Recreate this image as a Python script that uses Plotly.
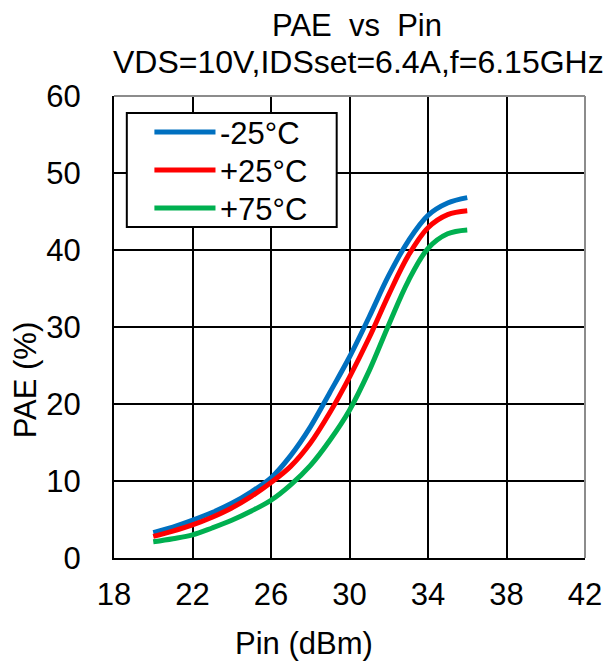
import plotly.graph_objects as go

# Input power sweep (dBm)
pin = [20, 21, 22, 23, 24, 25, 26, 27, 28, 29, 30, 31, 32, 33, 34, 35, 36]

# PAE (%) per case temperature
pae_m25 = [3.3, 4.0, 4.9, 5.9, 7.1, 8.6, 10.4, 13.3, 17.0, 21.5, 26.1, 31.3, 36.7, 41.2, 44.5, 46.1, 46.8]
pae_p25 = [2.8, 3.5, 4.3, 5.3, 6.5, 8.0, 9.8, 11.9, 14.9, 18.9, 23.5, 28.6, 34.2, 39.3, 42.9, 44.6, 45.1]
pae_p75 = [2.1, 2.5, 3.0, 3.9, 4.9, 6.1, 7.5, 9.5, 12.0, 15.3, 19.2, 24.3, 30.3, 36.0, 40.2, 42.1, 42.6]

series_names = ["-25°C", "+25°C", "+75°C"]
series_colors = ["#0070C0", "#FF0000", "#00B050"]

x_ticks = [18, 22, 26, 30, 34, 38, 42]
y_ticks = [0, 10, 20, 30, 40, 50, 60]

FONT = "Liberation Sans, Arial, sans-serif"
FS = 31

# Plot-area geometry in pixels
W, H = 614, 661
L, R, T, B = 114, 22, 96, 103
PW, PH = W - L - R, H - T - B


def px(xpix):
    return (xpix - L) / PW


def py(ypix):
    return (H - B - ypix) / PH


fig = go.Figure()
for name, vals, col in zip(series_names, [pae_m25, pae_p25, pae_p75], series_colors):
    fig.add_trace(go.Scatter(
        x=pin, y=vals, mode="lines", name=name, showlegend=False,
        line=dict(color=col, width=5, shape="spline", smoothing=1.0),
    ))

fig.update_layout(
    width=W, height=H,
    margin=dict(l=L, r=R, t=T, b=B),
    paper_bgcolor="white", plot_bgcolor="white",
    font=dict(family=FONT, size=FS, color="black"),
    showlegend=False,
)

fig.update_xaxes(
    range=[18, 42], tickvals=x_ticks, ticktext=[str(v) for v in x_ticks],
    showgrid=True, gridcolor="black", gridwidth=2,
    showline=True, linecolor="black", linewidth=2,
    zeroline=False, ticks="", ticklabelstandoff=8,
    tickfont=dict(family=FONT, size=FS, color="black"),
)
fig.update_yaxes(
    range=[0, 60], tickvals=y_ticks, ticktext=[str(v) for v in y_ticks],
    showgrid=True, gridcolor="black", gridwidth=2,
    showline=True, linecolor="black", linewidth=2,
    zeroline=False, ticks="", ticklabelstandoff=25,
    tickfont=dict(family=FONT, size=FS, color="black"),
)

# Gray frame on the top and right edges of the plot area
fig.add_shape(type="line", xref="paper", yref="paper", x0=0, x1=1, y0=1, y1=1,
              line=dict(color="#8c8c8c", width=2), layer="above")
fig.add_shape(type="line", xref="paper", yref="paper", x0=1, x1=1, y0=0, y1=1,
              line=dict(color="#8c8c8c", width=2), layer="above")

# Legend: framed box with line samples and labels
fig.add_shape(type="rect", xref="paper", yref="paper",
              x0=px(127), x1=px(340), y0=py(227), y1=py(113),
              line=dict(color="black", width=2), fillcolor="white", layer="above")
for i, (name, col) in enumerate(zip(series_names, series_colors)):
    yrow = 132 + 38 * i
    fig.add_shape(type="line", xref="paper", yref="paper",
                  x0=px(155), x1=px(217), y0=py(yrow), y1=py(yrow),
                  line=dict(color=col, width=5), layer="above")
    fig.add_annotation(text=name, xref="paper", yref="paper",
                       x=px(220), y=py(yrow + 1), xanchor="left", yanchor="middle",
                       showarrow=False, font=dict(family=FONT, size=FS, color="black"))

# Two-line chart title
fig.add_annotation(text="PAE  vs  Pin", xref="paper", yref="paper",
                   x=px(361), y=py(25), xanchor="center", yanchor="middle",
                   showarrow=False, font=dict(family=FONT, size=FS, color="black"))
fig.add_annotation(text="VDS=10V,IDSset=6.4A,f=6.15GHz", xref="paper", yref="paper",
                   x=px(362), y=py(62), xanchor="center", yanchor="middle",
                   showarrow=False, font=dict(family=FONT, size=FS + 1, color="black"))

# Axis titles
fig.add_annotation(text="Pin (dBm)", xref="paper", yref="paper",
                   x=px(307), y=py(643), xanchor="center", yanchor="middle",
                   showarrow=False, font=dict(family=FONT, size=FS, color="black"))
fig.add_annotation(text="PAE (%)", xref="paper", yref="paper",
                   x=px(24), y=py(380), xanchor="center", yanchor="middle",
                   showarrow=False, textangle=-90,
                   font=dict(family=FONT, size=FS, color="black"))

fig.write_html("out.html")
